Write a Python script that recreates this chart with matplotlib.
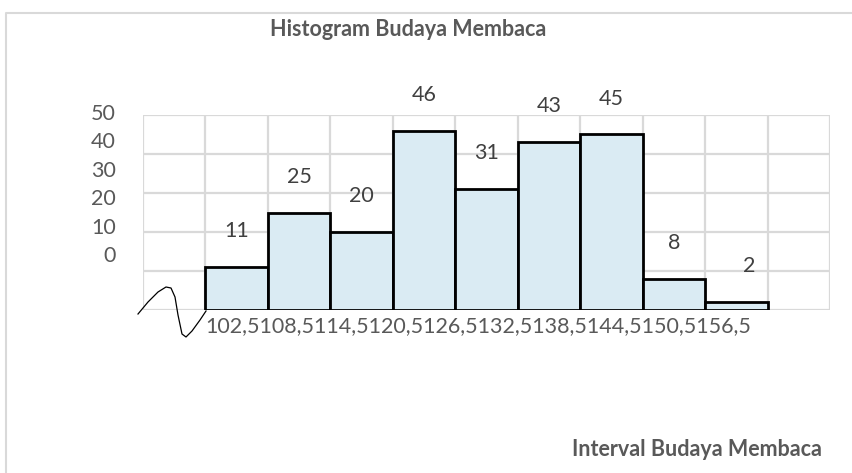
import numpy as np
import matplotlib
matplotlib.use('Agg')
import matplotlib.pyplot as plt
from matplotlib.lines import Line2D

plt.rcParams['font.family'] = ['Lato', 'DejaVu Sans']

# ------------------------------------------------------------------
# data
bin_edges = [102.5, 108.5, 114.5, 120.5, 126.5, 132.5, 138.5, 144.5, 150.5, 156.5]
frequencies = [11, 25, 20, 46, 31, 43, 45, 8, 2]
edge_labels = ["102,5", "108,5", "114,5", "120,5", "126,5",
               "132,5", "138,5", "144,5", "150,5", "156,5"]
y_labels = ["0", "10", "20", "30", "40", "50"]

title = "Histogram Budaya Membaca"
x_title = "Interval Budaya Membaca"

W, H = 853, 473
fig = plt.figure(figsize=(W / 100, H / 100), dpi=100)

# plot area in pixels: x 143..830, y 115..310
ax = fig.add_axes([143 / W, 1 - 310 / H, (830 - 143) / W, (310 - 115) / H])

width = bin_edges[1] - bin_edges[0]
ax.bar(bin_edges[:-1], frequencies, width=width, align='edge',
       color='#daebf3', edgecolor='black', linewidth=2.0, zorder=3)

ax.set_xlim(bin_edges[0] - width, bin_edges[-1] + width)
ax.set_ylim(0, 50)
ax.set_xticks(np.arange(bin_edges[0] - width, bin_edges[-1] + width + 0.1, width))
ax.set_yticks(np.arange(0, 51, 10))
ax.grid(True, color='#d9d9d9', linewidth=1.6, zorder=0)
ax.tick_params(length=0, labelbottom=False, labelleft=False)
for s in ax.spines.values():
    s.set_visible(False)

# value labels above the bars (last one sits a bit to the right in the original)
for i, (left, f) in enumerate(zip(bin_edges[:-1], frequencies)):
    shift = 0.2 * width if i == len(frequencies) - 1 else 0
    ax.text(left + width / 2 + shift, f + 9.2, str(f), ha='center', va='center',
            fontsize=15.5, color='#404040', zorder=4)

# y labels (shifted up, as in the original)
for i, lab in enumerate(y_labels):
    ypix = 256 - i * 28.4
    fig.text(116 / W, 1 - ypix / H, lab, ha='right', va='center',
             fontsize=15.5, color='#595959')

# interval labels run together under the bars
ax.text(bin_edges[0], -1.5, "".join(edge_labels), ha='left', va='top',
        fontsize=15.5, color='#595959')

# break mark
sx = [138, 148, 158, 166, 171, 175, 178, 182, 186, 192, 200, 206]
sy = [314, 302, 292, 287, 288, 297, 315, 334, 337, 331, 320, 311]
fig.add_artist(Line2D([x / W for x in sx], [1 - y / H for y in sy],
                      color='black', linewidth=0.9))

# frame lines of the chart area
fig.add_artist(Line2D([6 / W, 6 / W, 1], [0, 1 - 13 / H, 1 - 13 / H],
                      color='#d9d9d9', linewidth=1.5))

fig.text(408 / W, 1 - 30 / H, title, ha='center', va='center',
         fontsize=15.5, fontweight='bold', color='#595959')
fig.text(822 / W, 1 - 449 / H, x_title, ha='right', va='center',
         fontsize=15.5, fontweight='bold', color='#595959')

plt.savefig('out.png', dpi=100, facecolor='white')
